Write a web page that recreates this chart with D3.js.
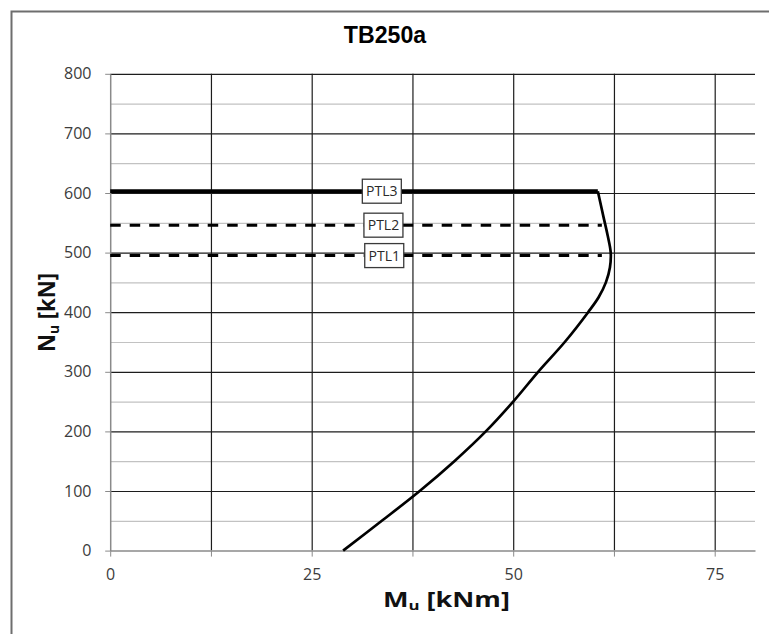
<!DOCTYPE html>
<html>
<head>
<meta charset="utf-8">
<script src="https://cdn.jsdelivr.net/npm/d3@7"></script>
<style>
  body { margin: 0; background: #fff; }
  svg { display: block; }
</style>
</head>
<body>
<svg id="chart" width="769" height="634"></svg>
<script>
// ---- data -------------------------------------------------------------
const chartTitle = "TB250a";
const xAxisTitle = ["M", "u", " [kNm]"];   // base, subscript, rest
const yAxisTitle = ["N", "u", " [kN]"];
const xMajorTicks = [0, 12.5, 25, 37.5, 50, 62.5, 75];
const xLabelledTicks = [0, 25, 50, 75];
const yMajorTicks = [0, 100, 200, 300, 400, 500, 600, 700, 800];
const yMinorTicks = [50, 150, 250, 350, 450, 550, 650, 750];

// interaction curve: bending moment Mu [kNm] against axial force Nu [kN]
const curveM = [28.9, 33.7, 38.4, 42.7, 46.6, 50.0, 53.1, 56.4, 59.3, 60.6, 61.5, 62.0, 62.1, 61.7, 61.2, 60.5];
const curveN = [0, 50, 100, 150, 200, 250, 300, 350, 400, 425, 450, 475, 500, 530, 560, 603];

// axial load limits
const limitNames = ["PTL1", "PTL2", "PTL3"];
const limitN = [495, 546, 603];
const limitMEnd = [61.0, 61.0, 60.5];
const limitLabelM = [34.0, 33.9, 33.7];

// ---- layout -----------------------------------------------------------
const W = 769, H = 634;
const plot = { left: 110.2, right: 755, top: 73.8, bottom: 550.6 };
const tickFont = "'Open Sans', 'Liberation Sans', sans-serif";

const x = d3.scaleLinear().domain([0, 80]).range([plot.left, plot.right]);
const y = d3.scaleLinear().domain([0, 800]).range([plot.bottom, plot.top]);

const svg = d3.select("#chart");

// outer chart frame
svg.append("rect")
  .attr("x", 11.5).attr("y", 11.5)
  .attr("width", W).attr("height", H)
  .attr("fill", "#fff")
  .attr("stroke", "#6e6e6e").attr("stroke-width", 2);

// minor horizontal gridlines
svg.append("g")
  .attr("transform", `translate(${plot.left},0)`)
  .call(d3.axisLeft(y).tickValues(yMinorTicks)
    .tickSize(-(plot.right - plot.left)).tickFormat(""))
  .call(g => g.select(".domain").remove())
  .call(g => g.selectAll("line").attr("stroke", "#c2c2c2").attr("stroke-width", 1.2));

// major horizontal gridlines
svg.append("g")
  .attr("transform", `translate(${plot.left},0)`)
  .call(d3.axisLeft(y).tickValues(yMajorTicks.filter(v => v > 0))
    .tickSize(-(plot.right - plot.left)).tickFormat(""))
  .call(g => g.select(".domain").remove())
  .call(g => g.selectAll("line").attr("stroke", "#1c1c1c").attr("stroke-width", 1.2));

// major vertical gridlines
svg.append("g")
  .attr("transform", `translate(0,${plot.bottom})`)
  .call(d3.axisBottom(x).tickValues(xMajorTicks.filter(v => v > 0))
    .tickSize(-(plot.bottom - plot.top)).tickFormat(""))
  .call(g => g.select(".domain").remove())
  .call(g => g.selectAll("line").attr("stroke", "#1c1c1c").attr("stroke-width", 1.2));

// x axis
svg.append("g")
  .attr("transform", `translate(0,${plot.bottom})`)
  .call(d3.axisBottom(x).tickValues(xMajorTicks)
    .tickSize(6).tickSizeOuter(0).tickPadding(12.5)
    .tickFormat(d => xLabelledTicks.includes(d) ? d3.format("d")(d) : ""))
  .call(g => g.select(".domain").attr("stroke", "#8a8a8a").attr("stroke-width", 1.5))
  .call(g => g.selectAll(".tick line").attr("stroke", "#8a8a8a"))
  .call(g => g.selectAll("text")
    .attr("font-family", tickFont).attr("font-size", 16).attr("fill", "#3c3c3c"));

// y axis
svg.append("g")
  .attr("transform", `translate(${plot.left},0)`)
  .call(d3.axisLeft(y).tickValues(yMajorTicks)
    .tickSize(5).tickSizeOuter(0).tickPadding(13.7)
    .tickFormat(d3.format("d")))
  .call(g => g.select(".domain").attr("stroke", "#8a8a8a").attr("stroke-width", 1.5))
  .call(g => g.selectAll(".tick line").attr("stroke", "#8a8a8a"))
  .call(g => g.selectAll("text")
    .attr("font-family", tickFont).attr("font-size", 16).attr("fill", "#3c3c3c"));

// ---- series -----------------------------------------------------------
const curvePts = curveN.map((n, i) => [curveM[i], n]);
const line = d3.line().x(d => x(d[0])).y(d => y(d[1]));

svg.append("path")
  .datum(curvePts)
  .attr("d", line.curve(d3.curveCatmullRom.alpha(0.5)))
  .attr("fill", "none")
  .attr("stroke", "#000")
  .attr("stroke-width", 2.7)
  .attr("stroke-linejoin", "round");

const straight = d3.line().x(d => x(d[0])).y(d => y(d[1]));
limitNames.forEach((name, i) => {
  const solid = name === "PTL3";
  svg.append("path")
    .datum([[0, limitN[i]], [limitMEnd[i], limitN[i]]])
    .attr("d", straight)
    .attr("fill", "none")
    .attr("stroke", "#000")
    .attr("stroke-width", solid ? 3.7 : 3)
    .attr("stroke-dasharray", solid ? null : "10.5,9");
});

// limit labels in boxes
limitNames.forEach((name, i) => {
  const cx = x(limitLabelM[i]), cy = y(limitN[i]);
  const g = svg.append("g").attr("transform", `translate(${cx},${cy})`);
  g.append("rect")
    .attr("x", -19.5).attr("y", -12)
    .attr("width", 39).attr("height", 24)
    .attr("fill", "#fff")
    .attr("stroke", "#3a3a3a").attr("stroke-width", 1.3);
  g.append("text")
    .attr("text-anchor", "middle")
    .attr("y", 5)
    .attr("font-family", tickFont).attr("font-size", 14)
    .attr("fill", "#2a2a2a")
    .text(name);
});

// ---- titles -------------------------------------------------------------
// horizontal scale factor that makes a text span the given length
function fitText(text, length) {
  const w = text.node().getBBox().width;
  return length / w;
}

// chart title
{
  const g = svg.append("g");
  const t = g.append("text")
    .attr("text-anchor", "middle")
    .attr("font-family", "'Liberation Sans', Arial, sans-serif")
    .attr("font-weight", "bold").attr("font-size", 24)
    .attr("fill", "#000")
    .text(chartTitle);
  const s = fitText(t, 83);
  g.attr("transform", `translate(385,43) scale(${s},1)`);
}

function axisTitle(parts, size) {
  const g = svg.append("g");
  const t = g.append("text")
    .attr("font-family", tickFont)
    .attr("font-weight", "bold").attr("font-size", size)
    .attr("fill", "#111");
  t.append("tspan").text(parts[0]);
  t.append("tspan").attr("font-size", size * 0.62).attr("dy", size * 0.16).text(parts[1]);
  t.append("tspan").attr("dy", -size * 0.16).text(parts[2]);
  return { g, t };
}

// x axis title
{
  const { g, t } = axisTitle(xAxisTitle, 21);
  t.attr("text-anchor", "start");
  const s = fitText(t, 127);
  g.attr("transform", `translate(383,606.7) scale(${s},1)`);
}

// y axis title
{
  const { g, t } = axisTitle(yAxisTitle, 23);
  t.attr("text-anchor", "middle");
  const s = fitText(t, 79);
  g.attr("transform", `translate(55,312.5) rotate(-90) scale(${s},1)`);
}
</script>
</body>
</html>
